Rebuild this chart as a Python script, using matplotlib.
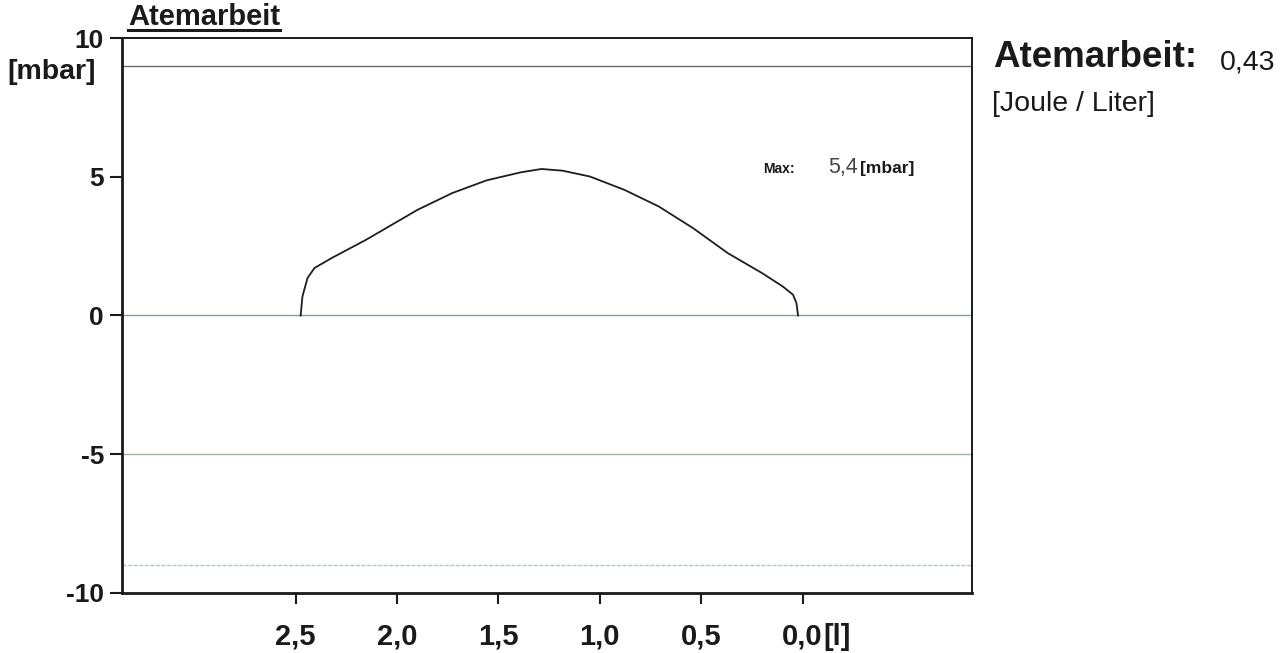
import matplotlib
matplotlib.use("Agg")
import matplotlib.pyplot as plt
from matplotlib.lines import Line2D

plt.rcParams['font.family'] = ['Liberation Sans', 'DejaVu Sans']

# breathing work loop, volume [l] vs. pressure [mbar]
volume = [2.475, 2.466, 2.441, 2.407, 2.322, 2.152, 1.898, 1.728, 1.558,
          1.389, 1.287, 1.185, 1.049, 0.879, 0.709, 0.540, 0.369, 0.200,
          0.098, 0.047, 0.030, 0.022]
pressure = [0.0, 0.69, 1.35, 1.71, 2.07, 2.73, 3.81, 4.41, 4.87,
            5.16, 5.28, 5.22, 5.01, 4.53, 3.93, 3.15, 2.25, 1.53,
            1.05, 0.75, 0.45, 0.0]

ref_levels = [9, 0, -5, -9]
ref_colors = ['#6a6a6a', '#86a08c', '#97b9a0', '#b3cdb8']
ref_styles = ['-', '-', '-', (0, (3, 1))]

x_ticks = [2.5, 2.0, 1.5, 1.0, 0.5, 0.0]
x_labels = ['2,5', '2,0', '1,5', '1,0', '0,5', '0,0']
y_ticks = [10, 5, 0, -5, -10]
y_labels = ['10', '5', '0', '-5', '-10']

work_value = '0,43'
max_value = '5,4'

fig = plt.figure(figsize=(12.8, 6.53), dpi=100)
ax = fig.add_axes([0.0953, 0.0919, 0.6641, 0.8499])

for lvl, c, ls in zip(ref_levels, ref_colors, ref_styles):
    ax.axhline(lvl, color=c, lw=1.0, ls=ls, zorder=1)

ax.plot(volume, pressure, color='#1e1e1e', lw=1.3, zorder=3)

ax.set_xlim(3.356, -0.836)
ax.set_ylim(-10, 10)

ax.set_xticks(x_ticks)
ax.set_xticklabels(x_labels, fontsize=21, fontweight='bold')
ax.set_yticks(y_ticks)
ax.set_yticklabels(y_labels, fontsize=19, fontweight='bold')
ax.tick_params(axis='x', direction='out', length=8, width=1.5, pad=13, colors='#1a1a1a')
ax.tick_params(axis='y', direction='out', length=9, width=1.5, pad=4, colors='#1a1a1a')

for side in ['left', 'bottom']:
    ax.spines[side].set_linewidth(2.0)
for side in ['right', 'top']:
    ax.spines[side].set_linewidth(1.4)
for sp in ax.spines.values():
    sp.set_color('#1a1a1a')

# unit of the x axis next to the last tick label
ax.text(-0.17, -11.57, '[l]', fontsize=21, fontweight='bold', ha='center', va='center',
        color='#1a1a1a', clip_on=False)

# y unit
fig.text(0.0055, 0.889, '[mbar]', fontsize=20.5, fontweight='bold', ha='left', va='center',
         color='#1a1a1a')

# underlined title
title = fig.text(0.1, 0.974, 'Atemarbeit', fontsize=21, fontweight='bold', ha='left',
                 va='center', color='#1a1a1a')
fig.canvas.draw()
bb = title.get_window_extent().transformed(fig.transFigure.inverted())
fig.add_artist(Line2D([bb.x0, bb.x1], [bb.y0 + 0.001, bb.y0 + 0.001],
                      transform=fig.transFigure, color='#1a1a1a', lw=2.2))

# max annotation
ax.text(0.196, 5.29, 'Max:', fontsize=10, fontweight='bold', ha='left', va='center',
        color='#1a1a1a')
ax.text(-0.126, 5.33, max_value, fontsize=15.5, ha='left', va='center', color='#444444')
ax.text(-0.283, 5.29, '[mbar]', fontsize=12.5, fontweight='bold', ha='left', va='center',
        color='#1a1a1a')

# work of breathing result
fig.text(0.776, 0.912, 'Atemarbeit:', fontsize=26.5, fontweight='bold', ha='left',
         va='center', color='#1a1a1a')
fig.text(0.953, 0.905, work_value, fontsize=20.5, ha='left', va='center', color='#1a1a1a')
fig.text(0.775, 0.840, '[Joule / Liter]', fontsize=20.5, ha='left', va='center',
         color='#1a1a1a')

fig.savefig('out.png', dpi=100)
